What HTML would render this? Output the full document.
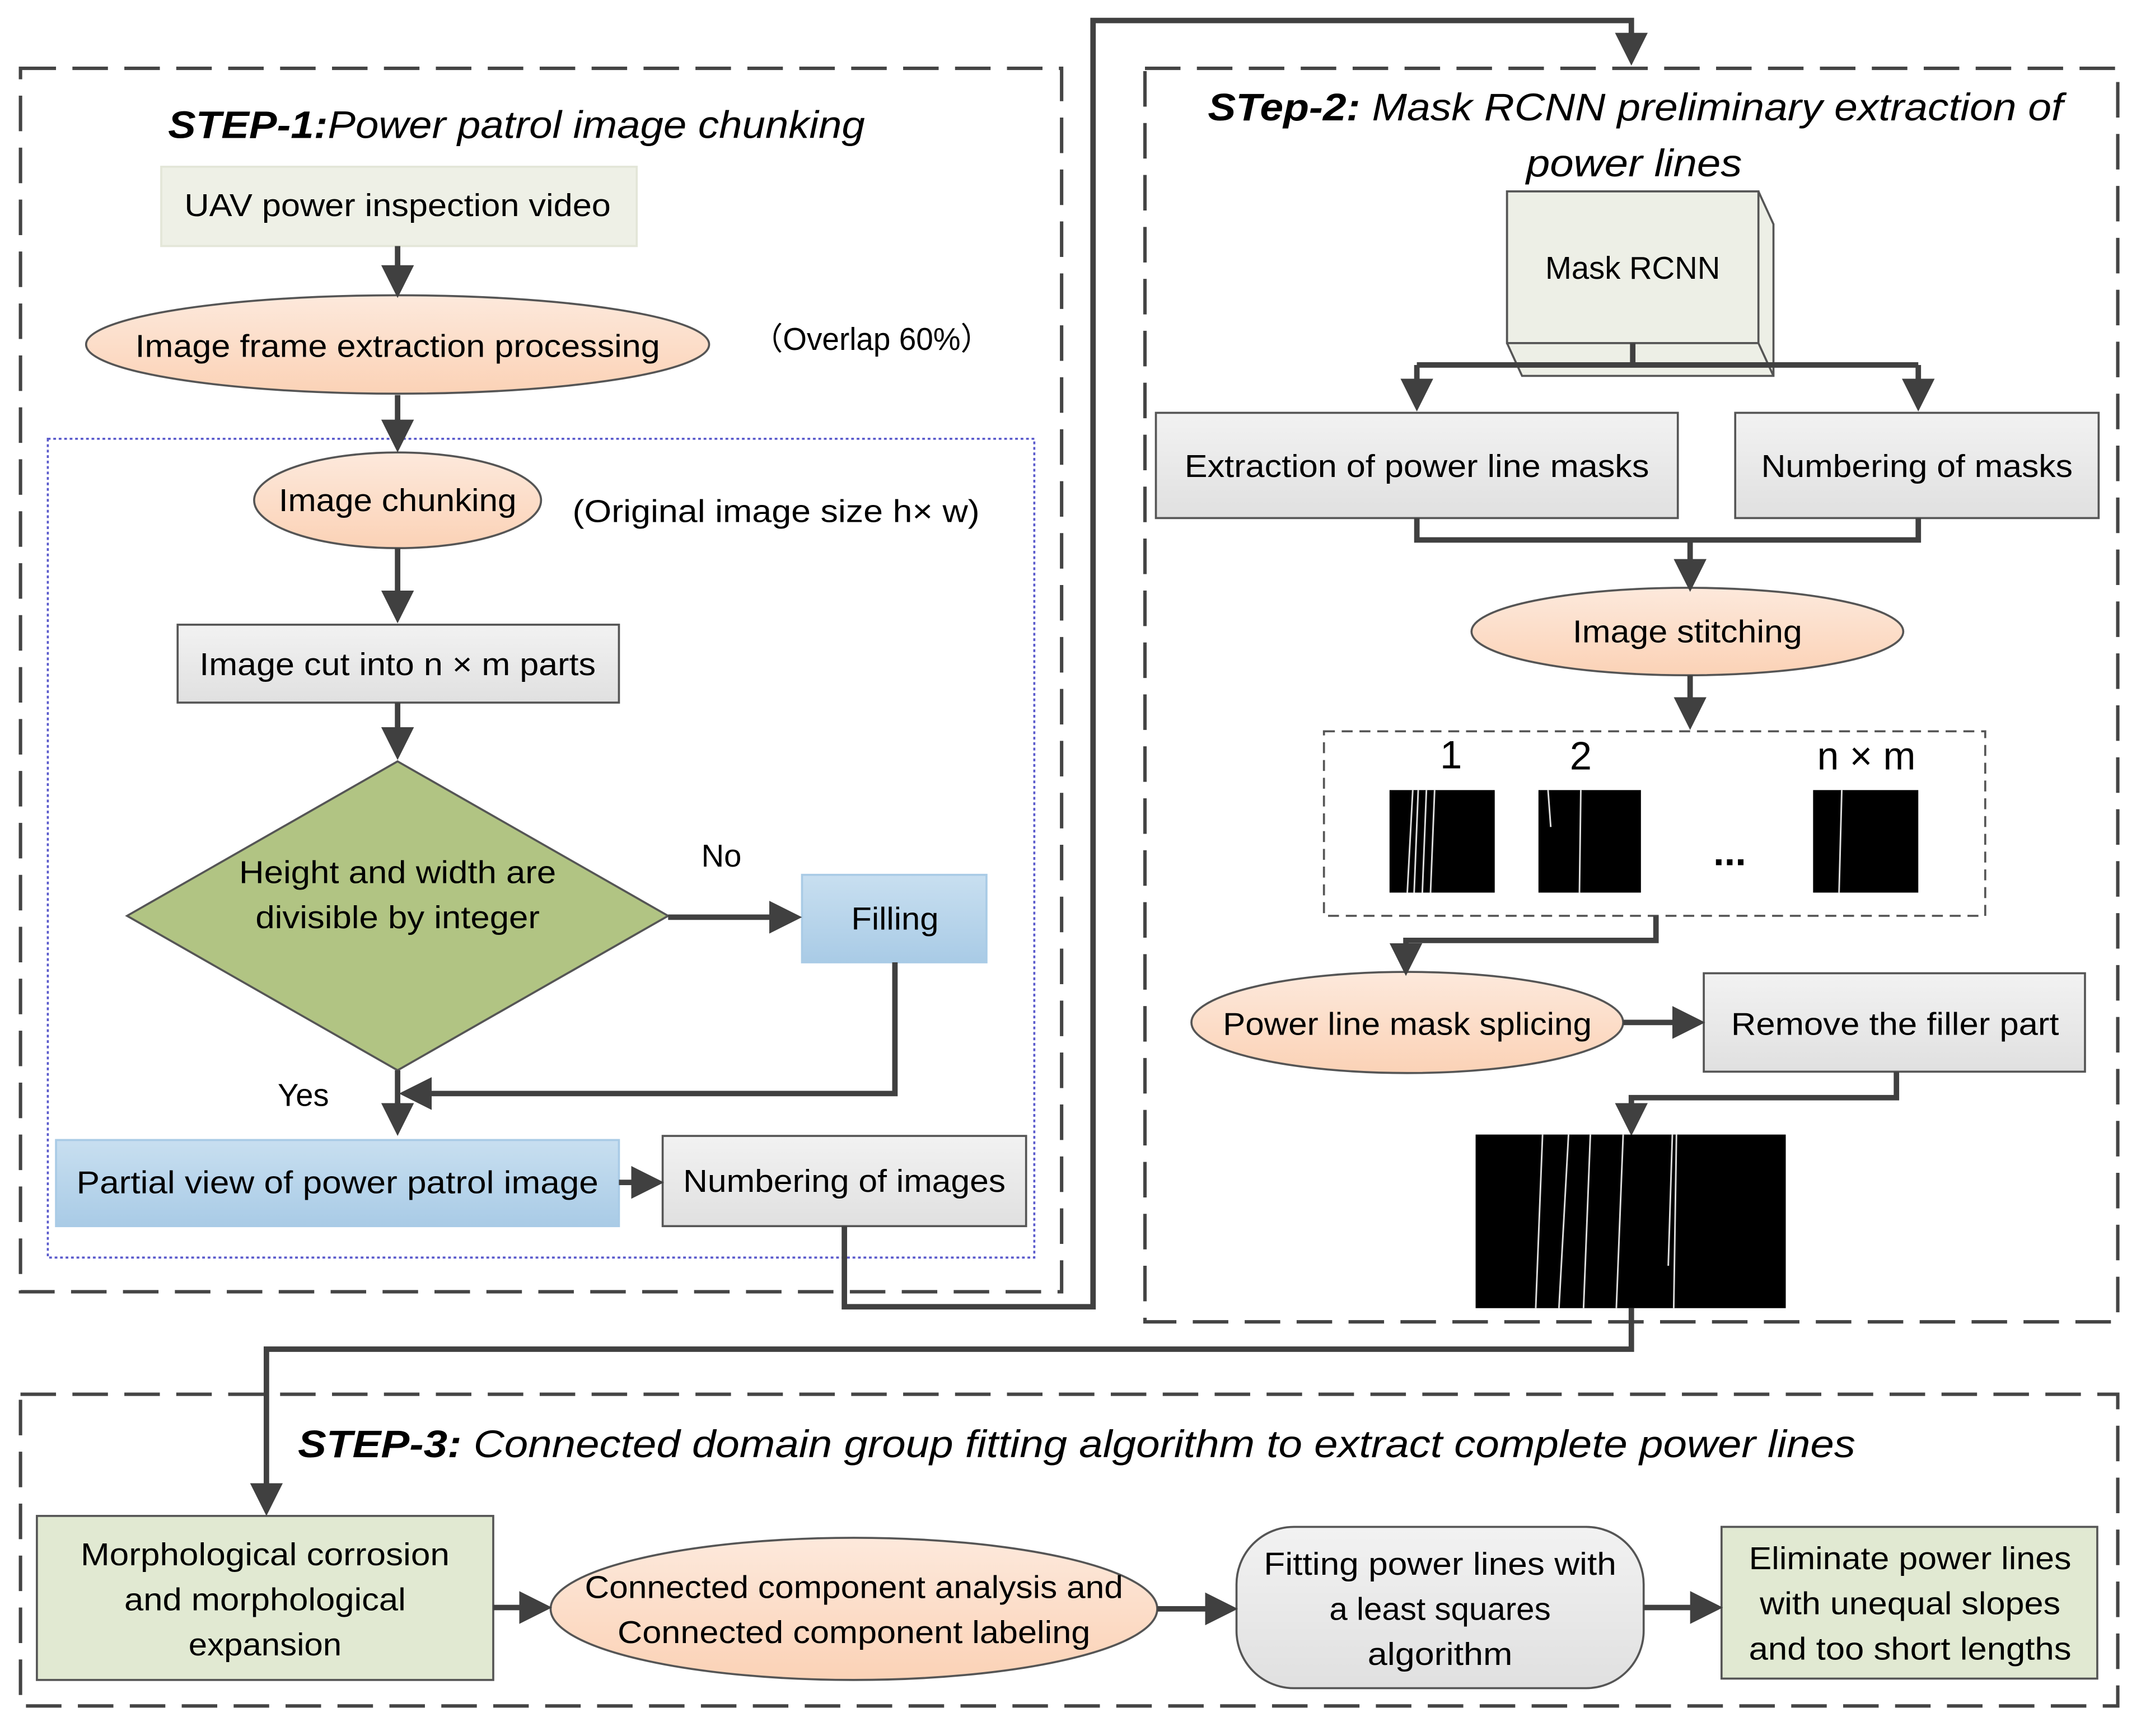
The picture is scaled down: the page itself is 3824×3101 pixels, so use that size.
<!DOCTYPE html>
<html><head><meta charset="utf-8"><style>html,body{margin:0;padding:0;background:#fff}svg{display:block}</style></head>
<body>
<svg width="3824" height="3101" viewBox="0 0 1567 1270" preserveAspectRatio="none" xmlns="http://www.w3.org/2000/svg" font-family="Liberation Sans, sans-serif">
<defs>
<marker id="a" markerWidth="6" markerHeight="6" refX="5" refY="3" orient="auto" markerUnits="strokeWidth"><path d="M0,0 L6,3 L0,6 z" fill="#404040"/></marker>
<linearGradient id="pe" x1="0" y1="0" x2="0" y2="1"><stop offset="0" stop-color="#fde9dc"/><stop offset="1" stop-color="#fbd2b6"/></linearGradient>
<linearGradient id="gr" x1="0" y1="0" x2="0" y2="1"><stop offset="0" stop-color="#f2f2f2"/><stop offset="1" stop-color="#e0e0e0"/></linearGradient>
<linearGradient id="bl" x1="0" y1="0" x2="0" y2="1"><stop offset="0" stop-color="#c8dff0"/><stop offset="1" stop-color="#a9cbe6"/></linearGradient>
</defs>
<g fill="none" stroke="#444" stroke-width="2.5" stroke-dasharray="26,12">
<rect x="15" y="50" width="762" height="895"/>
<rect x="838" y="50" width="712" height="917"/>
<rect x="15" y="1020" width="1535" height="228"/>
</g>
<rect x="35" y="321" width="722" height="599" fill="none" stroke="#5a5acc" stroke-width="1.5" stroke-dasharray="2,2"/>
<rect x="969" y="535" width="484" height="135" fill="none" stroke="#555" stroke-width="1.5" stroke-dasharray="8,5"/>

<g font-size="28" font-style="italic" fill="#000">
<text x="123" y="101" textLength="510" lengthAdjust="spacingAndGlyphs"><tspan font-weight="bold">STEP-1:</tspan>Power patrol image chunking</text>
<text x="884" y="88" textLength="626" lengthAdjust="spacingAndGlyphs"><tspan font-weight="bold">STep-2:</tspan> Mask RCNN preliminary extraction of</text>
<text x="1196" y="129" text-anchor="middle" textLength="158" lengthAdjust="spacingAndGlyphs">power lines</text>
<text x="218" y="1066" textLength="1140" lengthAdjust="spacingAndGlyphs"><tspan font-weight="bold">STEP-3:</tspan> Connected domain group fitting algorithm to extract complete power lines</text>
</g>

<g stroke="#555" stroke-width="1.5">
<rect x="118" y="122" width="348" height="58" fill="#eef0e6" stroke="#e3e6d8"/>
<ellipse cx="291" cy="252" rx="228" ry="36" fill="url(#pe)"/>
<ellipse cx="291" cy="366" rx="105" ry="35" fill="url(#pe)"/>
<rect x="130" y="457" width="323" height="57" fill="url(#gr)"/>
<polygon points="291,557 489,670 291,783 93,670" fill="#b1c483"/>
<rect x="587" y="640" width="135" height="64" fill="url(#bl)" stroke="#a9cbe6"/>
<rect x="41" y="834" width="412" height="63" fill="url(#bl)" stroke="#a9cbe6"/>
<rect x="485" y="831" width="266" height="66" fill="url(#gr)"/>
<polygon points="1103,140 1287,140 1298,164 1298,275 1114,275 1103,251" fill="#edefe6"/>
<path d="M1103,140 H1287 V251 H1103 Z M1287,251 L1298,275" fill="none"/>
<rect x="846" y="302" width="382" height="77" fill="url(#gr)"/>
<rect x="1270" y="302" width="266" height="77" fill="url(#gr)"/>
<ellipse cx="1235" cy="462" rx="158" ry="32" fill="url(#pe)"/>
<ellipse cx="1030" cy="748" rx="158" ry="37" fill="url(#pe)"/>
<rect x="1247" y="712" width="279" height="72" fill="url(#gr)"/>
<rect x="27" y="1109" width="334" height="120" fill="#e1e9d2"/>
<ellipse cx="625" cy="1177" rx="222" ry="52" fill="url(#pe)"/>
<rect x="905" y="1117" width="298" height="118" rx="42" fill="url(#gr)"/>
<rect x="1260" y="1117" width="275" height="111" fill="#e1e9d2"/>
</g>

<g stroke="#404040" stroke-width="4" fill="none" marker-end="url(#a)">
<path d="M291,180 V214"/>
<path d="M291,289 V327"/>
<path d="M291,401 V452"/>
<path d="M291,514 V552"/>
<path d="M489,671 H583"/>
<path d="M655,704 V800 H296"/>
<path d="M291,783 V827"/>
<path d="M453,865 H482"/>
<path d="M618,897 V956 H800 V15 H1194 V44"/>
<path d="M1037,267 V297"/>
<path d="M1404,267 V297"/>
<path d="M1237,395 V429"/>
<path d="M1237,494 V530"/>
<path d="M1212,670 V688 H1029 V710"/>
<path d="M1188,748 H1244"/>
<path d="M1388,784 V803 H1194 V827"/>
<path d="M1194,957 V987 H195 V1105"/>
<path d="M361,1176 H400"/>
<path d="M847,1177 H902"/>
<path d="M1203,1176 H1257"/>
</g>
<path d="M1037,267 H1404 M1195,251 V267 M1037,379 V395 H1404 V379" stroke="#404040" stroke-width="4" fill="none"/>

<g fill="#000">
<rect x="1017" y="578" width="77" height="75"/>
<rect x="1126" y="578" width="75" height="75"/>
<rect x="1327" y="578" width="77" height="75"/>
<rect x="1080" y="830" width="227" height="127"/>
</g>
<g stroke="#ddd" stroke-width="1.2">
<path d="M1034,578 L1030,653 M1038,578 L1035,653 M1044,578 L1041,653 M1050,578 L1047,653"/>
<path d="M1133,578 L1135,605 M1157,578 L1156,653"/>
<path d="M1348,578 L1346,653"/>
<path d="M1129,830 L1124,957 M1148,830 L1141,957 M1164,830 L1159,957 M1188,830 L1183,957 M1224,830 L1221,926 M1227,830 L1225,957"/>
</g>

<g font-size="23" fill="#000" text-anchor="middle">
<text x="291" y="158" textLength="312" lengthAdjust="spacingAndGlyphs">UAV power inspection video</text>
<text x="291" y="261" textLength="384" lengthAdjust="spacingAndGlyphs">Image frame extraction processing</text>
<text x="638" y="256" textLength="175" lengthAdjust="spacingAndGlyphs">（Overlap 60%）</text>
<text x="291" y="374" textLength="174" lengthAdjust="spacingAndGlyphs">Image chunking</text>
<text x="568" y="382" textLength="298" lengthAdjust="spacingAndGlyphs">(Original image size h× w)</text>
<text x="291" y="494" textLength="290" lengthAdjust="spacingAndGlyphs">Image cut into n × m parts</text>
<text x="291" y="646" textLength="232" lengthAdjust="spacingAndGlyphs">Height and width are</text>
<text x="291" y="679" textLength="208" lengthAdjust="spacingAndGlyphs">divisible by integer</text>
<text x="528" y="634">No</text>
<text x="222" y="809">Yes</text>
<text x="655" y="680" textLength="64" lengthAdjust="spacingAndGlyphs">Filling</text>
<text x="247" y="873" textLength="382" lengthAdjust="spacingAndGlyphs">Partial view of power patrol image</text>
<text x="618" y="872" textLength="236" lengthAdjust="spacingAndGlyphs">Numbering of images</text>
<text x="1195" y="204" textLength="128" lengthAdjust="spacingAndGlyphs">Mask RCNN</text>
<text x="1037" y="349" textLength="340" lengthAdjust="spacingAndGlyphs">Extraction of power line masks</text>
<text x="1403" y="349" textLength="228" lengthAdjust="spacingAndGlyphs">Numbering of masks</text>
<text x="1235" y="470" textLength="168" lengthAdjust="spacingAndGlyphs">Image stitching</text>
<text x="1030" y="757" textLength="270" lengthAdjust="spacingAndGlyphs">Power line mask splicing</text>
<text x="1387" y="757" textLength="240" lengthAdjust="spacingAndGlyphs">Remove the filler part</text>
<text x="194" y="1145" textLength="270" lengthAdjust="spacingAndGlyphs">Morphological corrosion</text>
<text x="194" y="1178" textLength="206" lengthAdjust="spacingAndGlyphs">and morphological</text>
<text x="194" y="1211" textLength="112" lengthAdjust="spacingAndGlyphs">expansion</text>
<text x="625" y="1169" textLength="394" lengthAdjust="spacingAndGlyphs">Connected component analysis and</text>
<text x="625" y="1202" textLength="346" lengthAdjust="spacingAndGlyphs">Connected component labeling</text>
<text x="1054" y="1152" textLength="258" lengthAdjust="spacingAndGlyphs">Fitting power lines with</text>
<text x="1054" y="1185" textLength="162" lengthAdjust="spacingAndGlyphs">a least squares</text>
<text x="1054" y="1218" textLength="106" lengthAdjust="spacingAndGlyphs">algorithm</text>
<text x="1398" y="1148" textLength="236" lengthAdjust="spacingAndGlyphs">Eliminate power lines</text>
<text x="1398" y="1181" textLength="220" lengthAdjust="spacingAndGlyphs">with unequal slopes</text>
<text x="1398" y="1214" textLength="236" lengthAdjust="spacingAndGlyphs">and too short lengths</text>
</g>
<g font-size="29" fill="#000" text-anchor="middle">
<text x="1062" y="562">1</text>
<text x="1157" y="563">2</text>
<text x="1366" y="563" textLength="72" lengthAdjust="spacingAndGlyphs">n × m</text>
<text x="1266" y="633" font-weight="bold">...</text>
</g>
</svg>
</body></html>
